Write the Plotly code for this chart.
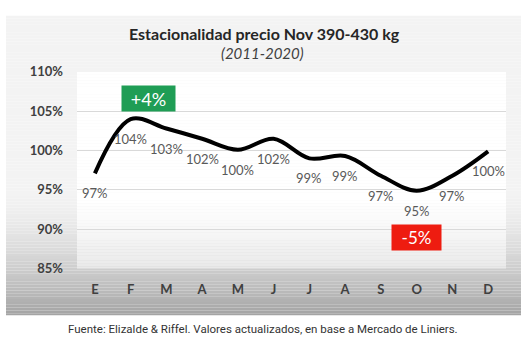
import plotly.graph_objects as go

months = ["E", "F", "M", "A", "M", "J", "J", "A", "S", "O", "N", "D"]
values = [97.1, 104.0, 102.8, 101.5, 100.1, 101.5, 99.0, 99.3, 96.8, 94.9, 96.8, 99.9]
labels = ["97%", "104%", "103%", "102%", "100%", "102%", "99%", "99%", "97%", "95%", "97%", "100%"]
y_ticks = [85, 90, 95, 100, 105, 110]
y_ticktext = ["85%", "90%", "95%", "100%", "105%", "110%"]

W, H = 529, 349
xs = list(range(len(months)))

def px(x):
    return x / W

def py(y):
    return 1 - y / H

def gray(v):
    v = int(round(max(0, min(255, v))))
    return f"rgb({v},{v},{v})"

shapes = []
# outer gradient box
top, bot = 8, 322
step = 3
y = top
while y < bot:
    y2 = min(bot, y + step)
    m = (y + y2) / 2
    if m < 190:
        c = 243
    else:
        t = (m - 190) / (bot - 190)
        c = 243 - 80 * t ** 1.6
    shapes.append(dict(type="rect", xref="paper", yref="paper", x0=px(6), x1=px(521),
                       y0=py(y2), y1=py(y), fillcolor=gray(c), line=dict(width=0), layer="below"))
    y = y2
# plot area gradient
ptop, pbot = 67, 273
y = ptop
while y < pbot:
    y2 = min(pbot, y + step)
    m = (y + y2) / 2
    if m < 200:
        c = 255
    else:
        t = (m - 200) / (pbot - 200)
        c = 255 - 22 * t ** 1.3
    shapes.append(dict(type="rect", xref="paper", yref="paper", x0=px(77), x1=px(506),
                       y0=py(y2), y1=py(y), fillcolor=gray(c), line=dict(width=0), layer="below"))
    y = y2

fig = go.Figure()
fig.add_trace(go.Scatter(
    x=xs, y=values, mode="lines",
    line=dict(color="black", width=4, shape="spline", smoothing=1.0),
    hoverinfo="skip", showlegend=False,
))

annotations = []
for i, (v, lab) in enumerate(zip(values, labels)):
    annotations.append(dict(x=i, y=v, xref="x", yref="y", text=lab, showarrow=False,
                            yshift=-20, font=dict(family="Lato", size=13, color="#595959")))

annotations.append(dict(x=1.5, y=106.6, xref="x", yref="y", text="+4%", showarrow=False,
                        bgcolor="#1f9d55", width=51, height=23,
                        font=dict(family="Lato", size=18, color="white")))
annotations.append(dict(x=9.0, y=88.9, xref="x", yref="y", text="-5%", showarrow=False,
                        bgcolor="#ee1c10", width=47, height=23,
                        font=dict(family="Lato", size=17, color="white")))

annotations.append(dict(x=px(264), y=py(27), xref="paper", yref="paper", yanchor="middle",
                        text="<b>Estacionalidad precio Nov 390-430 kg</b>", showarrow=False,
                        font=dict(family="Lato", size=16, color="#262626")))
annotations.append(dict(x=px(262), y=py(47), xref="paper", yref="paper", yanchor="middle",
                        text="<i>(2011-2020)</i>", showarrow=False,
                        font=dict(family="Lato", size=15, color="#404040")))
annotations.append(dict(x=px(263), y=py(336), xref="paper", yref="paper", yanchor="middle",
                        text="Fuente: Elizalde & Riffel. Valores actualizados, en base a Mercado de Liniers.",
                        showarrow=False, font=dict(family="Roboto", size=11.5, color="#333333")))

fig.update_layout(
    width=W, height=H,
    margin=dict(l=0, r=0, t=0, b=0),
    paper_bgcolor="white",
    plot_bgcolor="rgba(0,0,0,0)",
    shapes=shapes,
    annotations=annotations,
    xaxis=dict(
        domain=[px(77), px(506)],
        range=[-0.5, 11.5],
        tickmode="array", tickvals=xs, ticktext=[f"<b>{m}</b>" for m in months],
        showgrid=False, zeroline=False, showline=False, ticks="",
        tickfont=dict(family="Lato", size=13, color="#404040"),
        ticklabelstandoff=12,
    ),
    yaxis=dict(
        domain=[py(273), py(67)],
        range=[85, 110],
        tickmode="array", tickvals=y_ticks, ticktext=[f"<b>{t}</b>" for t in y_ticktext],
        showgrid=True, gridcolor="#d9d9d9", gridwidth=1,
        zeroline=False, showline=False, ticks="",
        tickfont=dict(family="Lato", size=13, color="#404040"),
        ticklabelstandoff=13,
    ),
)

fig.write_html("out.html")
